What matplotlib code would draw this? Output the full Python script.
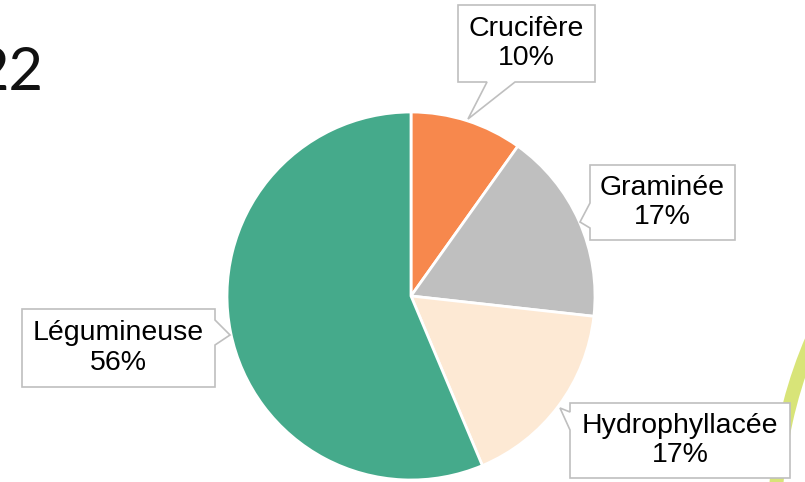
import matplotlib.pyplot as plt
from matplotlib.patches import Polygon, Wedge

# données
familles = ['Crucifère', 'Graminée', 'Hydrophyllacée', 'Légumineuse']
effectifs = [7, 12, 12, 40]
couleurs = ['#F7884D', '#BFBFBF', '#FDE9D4', '#45AA8B']

W, H = 805, 482

fig = plt.figure(figsize=(W / 100, H / 100), dpi=100)
ax = fig.add_axes([0, 0, 1, 1])

# camembert (coordonnées en pixels, y vers le haut)
cx, cy, r = 411, H - 296, 184
ax.pie(effectifs, colors=couleurs, startangle=90, counterclock=False,
       center=(cx, cy), radius=r,
       wedgeprops=dict(edgecolor='white', linewidth=2))

# arc décoratif en bas à droite
ax.add_patch(Wedge((1233, H - 520), 465, 150, 185, width=14,
                   facecolor='#D8E478', edgecolor='none'))

# titre (coupé à gauche comme sur l'original)
ax.text(43, H - 90, '22', ha='right', va='baseline', fontsize=43,
        family=['Lato', 'DejaVu Sans'], color='#111111')


def bulle(texte, box, cote, base, pointe):
    x0, y0, x1, y1 = box
    b0, b1 = base
    tl, tr, br, bl = (x0, y0), (x1, y0), (x1, y1), (x0, y1)
    if cote == 'bas':
        pts = [tl, tr, br, (b1, y1), pointe, (b0, y1), bl]
    elif cote == 'gauche':
        pts = [tl, tr, br, bl, (x0, b1), pointe, (x0, b0)]
    elif cote == 'droite':
        pts = [tl, tr, (x1, b0), pointe, (x1, b1), br, bl]
    else:
        pts = [tl, (b0, y0), pointe, (b1, y0), tr, br, bl]
    pts = [(x, H - y) for x, y in pts]
    ax.add_patch(Polygon(pts, closed=True, facecolor='white',
                         edgecolor='#BFBFBF', linewidth=1.2, zorder=5))
    ax.text((x0 + x1) / 2, H - (y0 + y1) / 2, texte, ha='center', va='center',
            fontsize=20.5, family=['Liberation Sans', 'DejaVu Sans'],
            color='black', linespacing=1.15, zorder=6)


total = sum(effectifs)
labels = [f'{f}\n{round(100 * v / total)}%' for f, v in zip(familles, effectifs)]

bulle(labels[0], (458, 5, 595, 82), 'bas', (487, 515), (468, 119))
bulle(labels[1], (590, 165, 735, 240), 'gauche', (203, 228), (580, 222))
bulle(labels[2], (570, 403, 790, 478), 'gauche', (412, 430), (560, 408))
bulle(labels[3], (22, 309, 215, 387), 'droite', (320, 345), (230, 335))

ax.set_xlim(0, W)
ax.set_ylim(0, H)
ax.set_aspect('auto')
ax.axis('off')

plt.savefig('out.png', dpi=100)
